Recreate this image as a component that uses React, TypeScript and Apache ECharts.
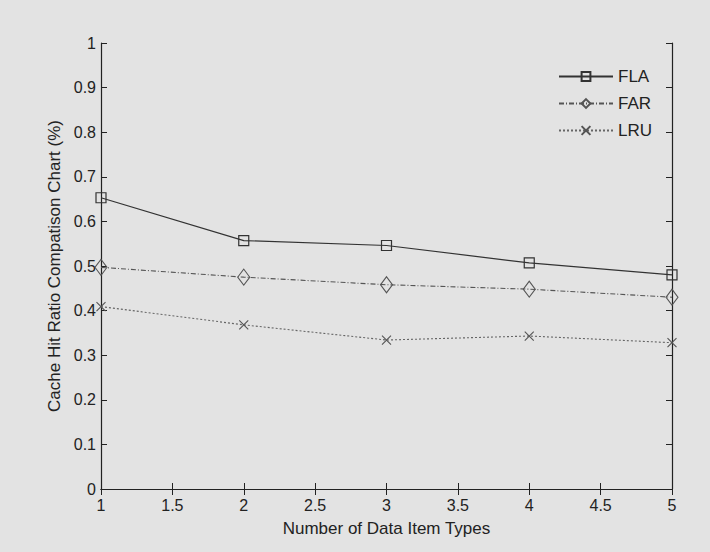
import React, { useEffect, useRef } from "react";
import * as echarts from "echarts";

// Number of data item types (x) and hit ratios per policy
const itemTypes = [1, 2, 3, 4, 5];
const flaValues = [0.653, 0.557, 0.546, 0.507, 0.48];
const farValues = [0.497, 0.475, 0.458, 0.448, 0.43];
const lruValues = [0.409, 0.368, 0.334, 0.343, 0.328];

const xTicks = ["1", "1.5", "2", "2.5", "3", "3.5", "4", "4.5", "5"];
const yTicks = ["0", "0.1", "0.2", "0.3", "0.4", "0.5", "0.6", "0.7", "0.8", "0.9", "1"];

const FONT = "'Liberation Sans', Arial, sans-serif";
const BG = "#e3e3e3";
const INK = "#222";
const CROSS = "path://M0,0L10,10M10,0L0,10";

export default function App() {
  const ref = useRef<HTMLDivElement>(null);

  useEffect(() => {
    document.body.style.margin = "0";
    document.body.style.background = BG;
    if (!ref.current) return;
    const chart = echarts.init(ref.current, undefined, { renderer: "svg" });

    const pair = (xs: number[], ys: number[]) => xs.map((x, i) => [x, ys[i]]);

    const frameLine = { lineStyle: { color: INK, width: 1.2 } };
    const innerTick = { show: true, inside: true, length: 6, lineStyle: { color: INK } };

    chart.setOption({
      animation: false,
      backgroundColor: BG,
      textStyle: { fontFamily: FONT },
      grid: { left: 101, right: 38, top: 43, bottom: 63, containLabel: false },
      legend: {
        orient: "vertical",
        left: 553,
        top: 63,
        itemWidth: 54,
        itemHeight: 11,
        itemGap: 10,
        textStyle: { fontSize: 17, color: INK, fontFamily: FONT },
        data: ["FLA", "FAR", "LRU"],
      },
      xAxis: [
        {
          type: "value",
          min: 1,
          max: 5,
          interval: 0.5,
          position: "bottom",
          name: "Number of Data Item Types",
          nameLocation: "middle",
          nameGap: 31,
          nameTextStyle: { fontSize: 17, color: INK, fontFamily: FONT },
          axisLine: frameLine,
          axisTick: innerTick,
          axisLabel: {
            fontSize: 16,
            color: INK,
            margin: 8,
            formatter: (v: number) => xTicks[Math.round((v - 1) * 2)] ?? "",
          },
          splitLine: { show: false },
        },
        {
          type: "value",
          min: 1,
          max: 5,
          interval: 0.5,
          position: "top",
          axisLine: frameLine,
          axisTick: innerTick,
          axisLabel: { show: false },
          splitLine: { show: false },
        },
      ],
      yAxis: [
        {
          type: "value",
          min: 0,
          max: 1,
          interval: 0.1,
          position: "left",
          name: "Cache Hit Ratio Compatison Chart (%)",
          nameLocation: "middle",
          nameGap: 38,
          nameTextStyle: { fontSize: 17, color: INK, fontFamily: FONT },
          axisLine: { show: true, ...frameLine },
          axisTick: innerTick,
          axisLabel: {
            fontSize: 16,
            color: INK,
            margin: 5,
            formatter: (v: number) => yTicks[Math.round(v * 10)] ?? "",
          },
          splitLine: { show: false },
        },
        {
          type: "value",
          min: 0,
          max: 1,
          interval: 0.1,
          position: "right",
          axisLine: { show: true, ...frameLine },
          axisTick: innerTick,
          axisLabel: { show: false },
          splitLine: { show: false },
        },
      ],
      series: [
        {
          name: "FLA",
          type: "line",
          data: pair(itemTypes, flaValues),
          symbol: "rect",
          symbolSize: 10,
          lineStyle: { color: "#333", width: 1.2, type: "solid" },
          itemStyle: { color: "rgba(0,0,0,0)", borderColor: "#333", borderWidth: 1.2 },
          emphasis: { disabled: true },
        },
        {
          name: "FAR",
          type: "line",
          data: pair(itemTypes, farValues),
          symbol: "diamond",
          symbolSize: [12, 16],
          lineStyle: { color: "#555", width: 1.1, type: [5, 2, 1, 2] },
          itemStyle: { color: "rgba(0,0,0,0)", borderColor: "#555", borderWidth: 1.1 },
          emphasis: { disabled: true },
        },
        {
          name: "LRU",
          type: "line",
          data: pair(itemTypes, lruValues),
          symbol: CROSS,
          symbolSize: 9,
          lineStyle: { color: "#666", width: 1.1, type: [2, 2] },
          itemStyle: { color: "rgba(0,0,0,0)", borderColor: "#555", borderWidth: 1.1 },
          emphasis: { disabled: true },
        },
      ],
    });

    return () => chart.dispose();
  }, []);

  return <div ref={ref} style={{ width: 710, height: 552 }} />;
}
